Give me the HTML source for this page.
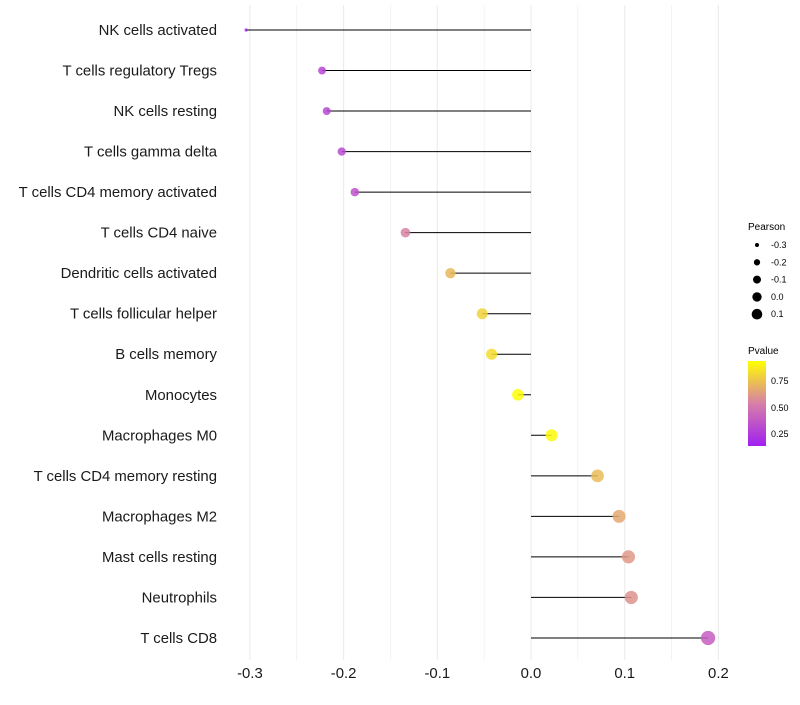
<!DOCTYPE html>
<html><head><meta charset="utf-8"><style>
body{margin:0;background:#fff;font-family:"Liberation Sans",sans-serif}
</style></head><body>
<svg id="chart" width="800" height="700" xmlns="http://www.w3.org/2000/svg" font-family="Liberation Sans, sans-serif">
<g id="grid"></g>
<g id="marks"></g>
<g id="ylab"></g>
<g id="xlab"></g>
<g id="lg1">
<text x="748" y="230" font-size="10">Pearson</text>
</g>
<g>
<defs><linearGradient id="pg" x1="0" y1="1" x2="0" y2="0">
<stop offset="0" stop-color="#A020F0"/><stop offset="0.5" stop-color="#D77FA8"/><stop offset="1" stop-color="#FFFF00"/></linearGradient></defs>
<text x="748" y="354" font-size="10">Pvalue</text>
<rect x="748" y="361" width="18" height="85" fill="url(#pg)"/>
<text x="771" y="384" font-size="9">0.75</text>
<text x="771" y="411" font-size="9">0.50</text>
<text x="771" y="437" font-size="9">0.25</text>
</g>
</svg>
<script>
const categories=["NK cells activated","T cells regulatory  Tregs","NK cells resting","T cells gamma delta","T cells CD4 memory activated","T cells CD4 naive","Dendritic cells activated","T cells follicular helper","B cells memory","Monocytes","Macrophages M0","T cells CD4 memory resting","Macrophages M2","Mast cells resting","Neutrophils","T cells CD8"];
const pearson=[-0.304,-0.223,-0.218,-0.202,-0.188,-0.134,-0.086,-0.052,-0.042,-0.014,0.022,0.071,0.094,0.104,0.107,0.189];
const pvalue=[0.15,0.3,0.3,0.32,0.35,0.55,0.72,0.8,0.83,0.93,0.92,0.73,0.67,0.62,0.6,0.4];
const xTicks=[-0.3,-0.2,-0.1,0.0,0.1,0.2];
const sizeLegend=[-0.3,-0.2,-0.1,0.0,0.1];
const NS="http://www.w3.org/2000/svg";
const X=v=>531+v*937;
const Y=i=>30+i*40.53;
const R=v=>{const x=v+0.3;return x<0.03?1.6:Math.sqrt(9+85*x);};
const RL=v=>Math.sqrt(Math.max(1,4+60*(v+0.3)));
function col(p){let t=(p-0.137)/(0.94-0.137);t=Math.max(0,Math.min(1,t));
 const a=[160,32,240],m=[215,127,168],b=[255,255,0];let c;
 if(t<0.5){const u=t/0.5;c=a.map((x,k)=>Math.round(x+(m[k]-x)*u));}else{const u=(t-0.5)/0.5;c=m.map((x,k)=>Math.round(x+(b[k]-x)*u));}
 return `rgb(${c})`;}
function el(t,a,p){const e=document.createElementNS(NS,t);for(const k in a)e.setAttribute(k,a[k]);p.appendChild(e);return e;}
const grid=document.getElementById('grid');
for(let v=-0.3;v<=0.2001;v+=0.05){const l=el('line',{x1:X(v),x2:X(v),y1:5,y2:660,stroke:'#ebebeb','stroke-width':Math.abs(Math.round(v*20))%2===0?1.1:0.6},grid);

}
const marks=document.getElementById('marks'),yl=document.getElementById('ylab'),xl=document.getElementById('xlab');
categories.forEach((c,i)=>{
 const s=el('line',{x1:X(0),x2:X(pearson[i]),y1:Y(i),y2:Y(i),stroke:'#000','stroke-width':1},marks);
 
 
 const d=el('circle',{cx:X(pearson[i]),cy:Y(i),r:R(pearson[i]),fill:col(pvalue[i]),'fill-opacity':0.85},marks);
 
 
 const t=el('text',{x:217,y:Y(i)+5,'text-anchor':'end','font-size':14.9,fill:'#1a1a1a'},yl);t.textContent=c;
 
 
});
xTicks.forEach(v=>{const t=el('text',{x:X(v),y:678,'text-anchor':'middle','font-size':14.9,fill:'#1a1a1a'},xl);t.textContent=v.toFixed(1);
 
 });
const lg=document.getElementById('lg1');
sizeLegend.forEach((v,i)=>{const y=245+i*17.3;
 const c=el('circle',{cx:757,cy:y,r:RL(v),fill:'#000'},lg);
 
 
 const t=el('text',{x:771,y:y+3,'font-size':9},lg);t.textContent=v.toFixed(1);
 
 });
</script>
</body></html>
